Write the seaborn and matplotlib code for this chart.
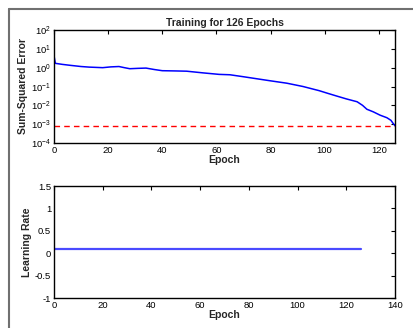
import numpy as np
import pandas as pd
import seaborn as sns
import matplotlib.pyplot as plt
from matplotlib.lines import Line2D
from matplotlib.ticker import FixedLocator, NullLocator

# Error curve (epoch, sum-squared error)
epochs = [0, 0.5, 3, 6, 10, 13, 18, 21, 24, 26, 28, 31, 34, 37, 40,
          45, 49, 55, 61, 65, 70, 74, 80, 86, 92, 98, 101, 104.5, 108,
          112, 114, 115.6, 118, 120.5, 123, 124.5, 125.3, 126]
sse = [4.3, 1.7, 1.5, 1.33, 1.15, 1.07, 1.0, 1.1, 1.15, 1.0, 0.88, 0.92,
       0.95, 0.8, 0.69, 0.67, 0.65, 0.53, 0.44, 0.42, 0.33, 0.27, 0.2,
       0.15, 0.1, 0.06, 0.044, 0.031, 0.022, 0.0155, 0.01, 0.0062,
       0.0045, 0.003, 0.0022, 0.0016, 0.0011, 0.00083]
goal = 0.0008

lr_epochs = [0, 126]
lr_values = [0.1, 0.1]

sns.set_style("white")
plt.rcParams['font.family'] = ['Liberation Sans', 'DejaVu Sans']

fig = plt.figure(figsize=(4.13, 3.28), dpi=100)

# grey frame of the surrounding document figure (left and top edges only)
fx, fy = 8.5 / 413, 1 - 8.5 / 328
fig.add_artist(Line2D([fx, fx], [0, fy], transform=fig.transFigure,
                      color='#707070', linewidth=1.5))
fig.add_artist(Line2D([fx, 1], [fy, fy], transform=fig.transFigure,
                      color='#707070', linewidth=1.5))

ax1 = fig.add_axes([54 / 413, 1 - 143 / 328, 341 / 413, 113 / 328])
ax2 = fig.add_axes([54 / 413, 1 - 298.3 / 328, 341 / 413, 112.3 / 328])

err = pd.DataFrame({'Epoch': epochs, 'SSE': sse})
sns.lineplot(data=err, x='Epoch', y='SSE', ax=ax1, color='#0000ff',
             linewidth=1.1)
ax1.axhline(goal, color='#ff0000', linestyle=(0, (4, 3)), linewidth=1.0)
ax1.set_yscale('log')
ax1.set_xlim(0, 126)
ax1.set_ylim(1e-4, 1e2)
ax1.set_xticks([0, 20, 40, 60, 80, 100, 120])
ax1.yaxis.set_major_locator(FixedLocator([10.0 ** k for k in range(-4, 3)]))
ax1.yaxis.set_minor_locator(NullLocator())
ax1.set_title('Training for 126 Epochs', fontsize=7.5, fontweight='bold',
              pad=3)
ax1.set_xlabel('Epoch', fontsize=7.5, fontweight='bold', labelpad=0)
ax1.set_ylabel('Sum-Squared Error', fontsize=7.5, fontweight='bold',
               labelpad=2)

lr = pd.DataFrame({'Epoch': lr_epochs, 'Rate': lr_values})
sns.lineplot(data=lr, x='Epoch', y='Rate', ax=ax2, color='#4a4aff',
             linewidth=1.6)
ax2.set_xlim(0, 140)
ax2.set_ylim(-1, 1.5)
ax2.set_xticks([0, 20, 40, 60, 80, 100, 120, 140])
ax2.set_yticks([-1, -0.5, 0, 0.5, 1, 1.5])
ax2.set_yticklabels(['-1', '-0.5', '0', '0.5', '1', '1.5'])
ax2.set_xlabel('Epoch', fontsize=7.5, fontweight='bold', labelpad=0)
ax2.set_ylabel('Learning Rate', fontsize=7.5, fontweight='bold', labelpad=2)

for ax in (ax1, ax2):
    for s in ax.spines.values():
        s.set_visible(True)
        s.set_color('black')
        s.set_linewidth(1.0)
    ax.tick_params(direction='in', length=3, width=0.8, top=True, right=True,
                   labelsize=6.8, pad=2, colors='black')
    ax.grid(False)

fig.savefig('out.png', dpi=100)
